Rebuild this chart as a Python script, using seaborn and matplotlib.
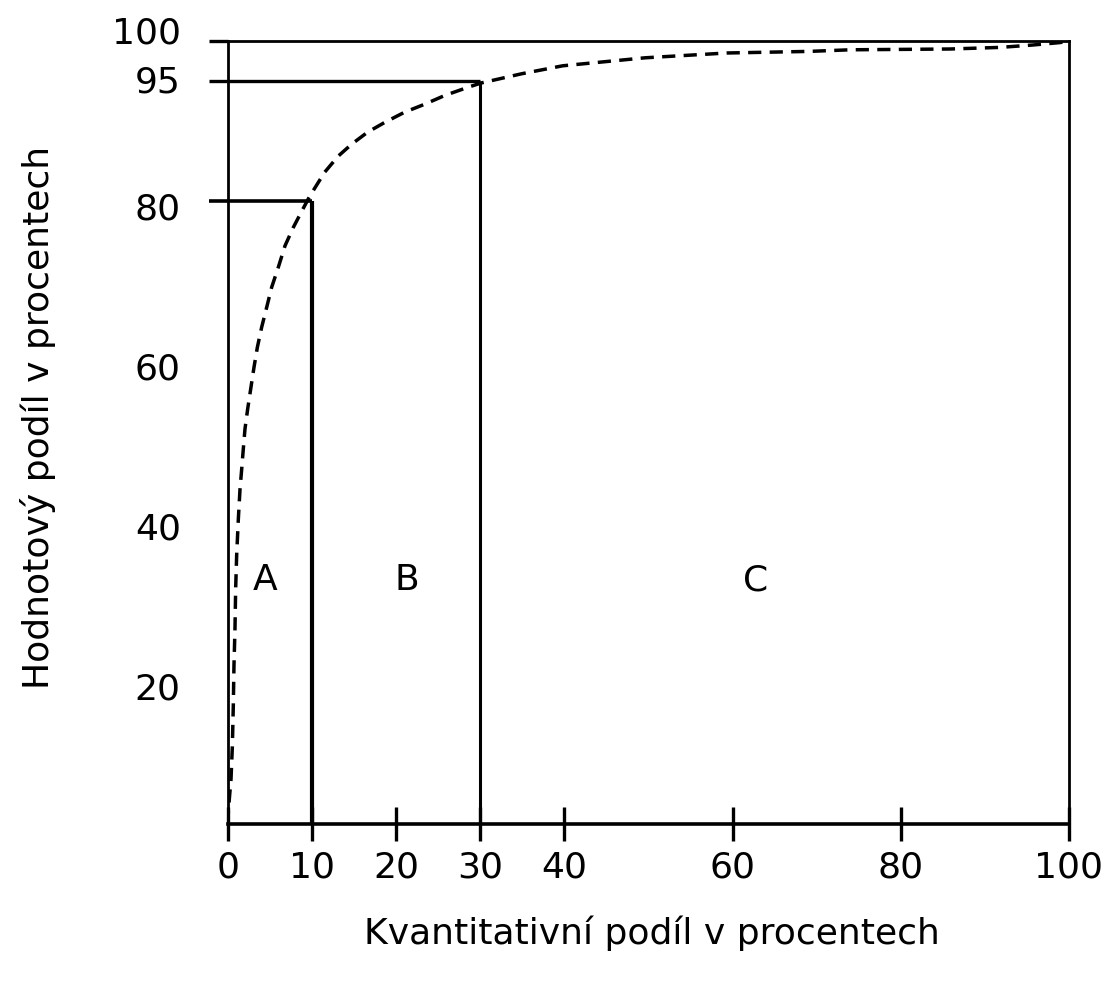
import matplotlib
matplotlib.use("Agg")
import matplotlib.pyplot as plt
import matplotlib.transforms as mtransforms
import seaborn as sns

# kumulativni krivka
curve_x = [0, 0.04, 0.16, 0.36, 0.52, 0.63, 0.71, 0.83, 0.91, 1.03, 1.23, 1.43, 1.63, 1.82,
           2.02, 2.34, 2.70, 3.09, 3.49, 4.0, 4.60, 5.19, 5.98, 6.78, 7.77, 8.76, 9.72,
           11.5, 13.1, 14.7, 16.6, 18.6, 21.0, 23.4, 25.8, 28.5, 30.1, 34.9, 39.8, 49.6,
           59.3, 69.1, 73.96, 85.85, 91.8, 95.7, 98.9, 100]
curve_y = [2.1, 3.6, 5.25, 7.75, 11.9, 16.9, 21.9, 26.5, 31.5, 35.7, 40.25, 44, 46.5, 49,
           51.5, 54, 56.5, 59.2, 61.7, 64.2, 66.7, 69.2, 71.7, 74.4, 76.7, 78.7, 80.6,
           83.6, 85.6, 87.1, 88.6, 89.8, 91.1, 92.1, 93.2, 94.2, 94.75, 95.9, 96.9, 97.9,
           98.5, 98.7, 98.9, 99.0, 99.2, 99.5, 99.8, 100]

# hranice skupin A/B/C
bound_x = [10, 30]
bound_y = [80, 95]
group_names = ["A", "B", "C"]
group_x = [4.4, 21.3, 62.7]
group_y = 32.7

x_ticks = [0, 10, 20, 30, 40, 60, 80, 100]
y_ticks = [20, 40, 60, 80, 95, 100]

sns.set_style("white")
plt.rcParams["font.family"] = ["DejaVu Sans"]
plt.rcParams["text.color"] = "black"
plt.rcParams["xtick.color"] = "black"
plt.rcParams["ytick.color"] = "black"
plt.rcParams["axes.labelcolor"] = "black"
fs = 26

fig = plt.figure(figsize=(11.13, 9.87), dpi=100)
ax = fig.add_axes([228 / 1113, 1 - 825 / 987, 841 / 1113, 783 / 987])

sns.lineplot(x=curve_x, y=curve_y, ax=ax, color="black", linewidth=2.5,
             estimator=None, sort=False)
ax.lines[-1].set_linestyle((0, (3.8, 2.4)))

ymin = 2.1
# svisle hranice
ax.plot([bound_x[0], bound_x[0]], [ymin, bound_y[0]], color="black", lw=3.0, solid_capstyle="butt")
ax.plot([bound_x[1], bound_x[1]], [ymin, bound_y[1]], color="black", lw=2.2, solid_capstyle="butt")
# vodorovne hranice, presahuji vlevo
xl = -2.26
ax.plot([xl, bound_x[0]], [bound_y[0], bound_y[0]], color="black", lw=2.6, clip_on=False, solid_capstyle="butt")
ax.plot([xl, bound_x[1]], [bound_y[1], bound_y[1]], color="black", lw=2.4, clip_on=False, solid_capstyle="butt")
ax.plot([xl, 0], [100, 100], color="black", lw=2.4, clip_on=False, solid_capstyle="butt")

for name, gx in zip(group_names, group_x):
    ax.text(gx, group_y, name, fontsize=fs, ha="center", va="center")

ax.set_xlim(0, 100)
ax.set_ylim(ymin, 100)
ax.set_xticks(x_ticks)
ax.set_xticklabels([str(v) for v in x_ticks], fontsize=fs)
ax.set_yticks(y_ticks)
ax.set_yticklabels([str(v) for v in y_ticks], fontsize=fs)
ax.tick_params(axis="x", bottom=True, direction="inout", length=25, width=2.4, pad=6)
ax.tick_params(axis="y", left=False, length=0, pad=34)

# popisky 95 a 100 jsou v originale posunute nahoru
for lab in ax.get_yticklabels():
    dy = {"100": 12, "95": 3}.get(lab.get_text(), -4)
    lab.set_transform(lab.get_transform() + mtransforms.ScaledTranslation(0, dy / 100, fig.dpi_scale_trans))

for side in ["left", "right", "top"]:
    ax.spines[side].set_linewidth(2.0)
    ax.spines[side].set_color("black")
ax.spines["bottom"].set_linewidth(2.6)
ax.spines["bottom"].set_color("black")

ax.set_xlabel("Kvantitativní podíl v procentech", fontsize=fs)
ax.set_ylabel("Hodnotový podíl v procentech", fontsize=fs)
ax.xaxis.set_label_coords(0.504, -0.116)
ax.yaxis.set_label_coords(-0.205, 0.52)

fig.savefig("out.png", dpi=100)
